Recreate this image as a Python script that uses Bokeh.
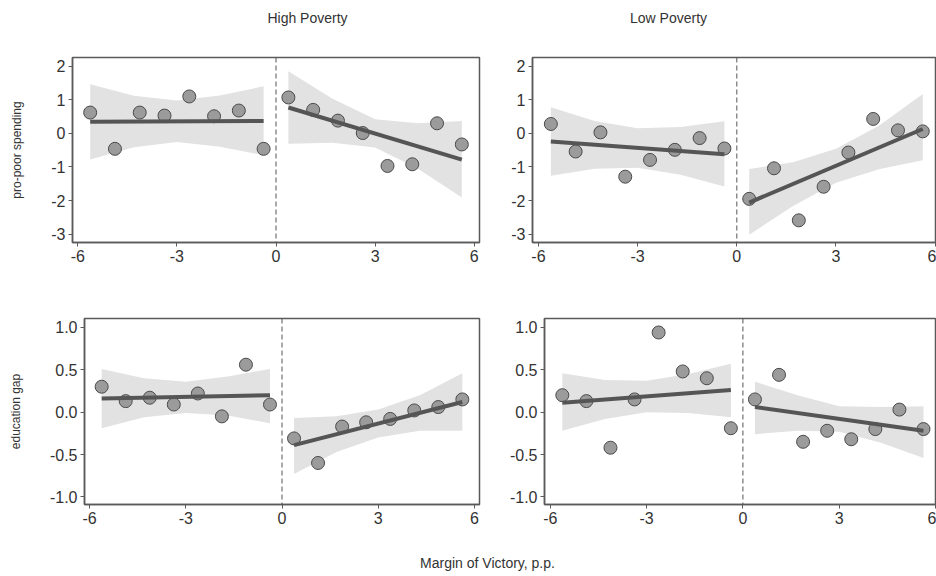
from bokeh.plotting import figure
from bokeh.layouts import column, row
from bokeh.models import Range1d, FixedTicker, PrintfTickFormatter, Span
from bokeh.core.properties import value
from bokeh.embed import file_html
from bokeh.resources import INLINE

FONT = "Liberation Sans"

# ---------------- data ----------------
bins_left = [-5.625, -4.875, -4.125, -3.375, -2.625, -1.875, -1.125, -0.375]
bins_right = [0.375, 1.125, 1.875, 2.625, 3.375, 4.125, 4.875, 5.625]
fit_x_left = [-5.625, -0.375]
fit_x_right = [0.375, 5.625]
band_x_left = [-5.625, -4.3, -3.0, -1.7, -0.375]
band_x_right = [0.375, 1.7, 3.0, 4.3, 5.625]

col_titles = ["High Poverty", "Low Poverty"]
row_labels = ["pro-poor spending", "education gap"]
x_label = "Margin of Victory, p.p."
x_ticks = [-6, -3, 0, 3, 6]
spend_ticks = [-3, -2, -1, 0, 1, 2]
gap_ticks = [-1.0, -0.5, 0.0, 0.5, 1.0]

# High poverty - pro-poor spending
hp_spend_left = [0.62, -0.46, 0.62, 0.53, 1.10, 0.51, 0.68, -0.46]
hp_spend_right = [1.07, 0.70, 0.38, 0.01, -0.97, -0.92, 0.30, -0.33]
hp_spend_fit_left = [0.35, 0.37]
hp_spend_fit_right = [0.77, -0.78]
hp_spend_up_left = [1.46, 1.12, 0.98, 1.13, 1.40]
hp_spend_lo_left = [-0.78, -0.41, -0.26, -0.40, -0.65]
hp_spend_up_right = [1.85, 1.04, 0.42, 0.30, 0.37]
hp_spend_lo_right = [-0.31, -0.28, -0.42, -1.05, -1.91]

# Low poverty - pro-poor spending
lp_spend_left = [0.28, -0.54, 0.03, -1.29, -0.79, -0.49, -0.14, -0.45]
lp_spend_right = [-1.95, -1.04, -2.59, -1.59, -0.57, 0.43, 0.09, 0.06]
lp_spend_fit_left = [-0.24, -0.62]
lp_spend_fit_right = [-2.06, 0.13]
lp_spend_up_left = [0.78, 0.37, 0.15, 0.19, 0.36]
lp_spend_lo_left = [-1.26, -1.05, -1.02, -1.23, -1.58]
lp_spend_up_right = [-1.06, -0.86, -0.46, 0.23, 1.17]
lp_spend_lo_right = [-3.02, -2.16, -1.47, -1.07, -0.80]

# High poverty - education gap
hp_gap_left = [0.30, 0.13, 0.17, 0.09, 0.22, -0.05, 0.56, 0.09]
hp_gap_right = [-0.31, -0.60, -0.17, -0.12, -0.08, 0.02, 0.06, 0.15]
hp_gap_fit_left = [0.16, 0.20]
hp_gap_fit_right = [-0.39, 0.12]
hp_gap_up_left = [0.51, 0.40, 0.36, 0.42, 0.51]
hp_gap_lo_left = [-0.19, -0.06, -0.01, -0.04, -0.13]
hp_gap_up_right = [-0.07, -0.05, 0.03, 0.20, 0.46]
hp_gap_lo_right = [-0.73, -0.47, -0.30, -0.22, -0.22]

# Low poverty - education gap
lp_gap_left = [0.20, 0.13, -0.42, 0.15, 0.94, 0.48, 0.40, -0.19]
lp_gap_right = [0.15, 0.44, -0.35, -0.22, -0.32, -0.20, 0.03, -0.20]
lp_gap_fit_left = [0.11, 0.26]
lp_gap_fit_right = [0.06, -0.22]
lp_gap_up_left = [0.46, 0.38, 0.37, 0.45, 0.57]
lp_gap_lo_left = [-0.22, -0.08, 0.00, -0.01, -0.06]
lp_gap_up_right = [0.36, 0.20, 0.07, 0.06, 0.07]
lp_gap_lo_right = [-0.26, -0.22, -0.23, -0.36, -0.54]

# ---------------- styling ----------------
AX = "#5a5a5a"
TXT = "#333333"
BAND = "#e2e2e2"
FITC = "#555555"
PT_FILL = "#9b9b9b"
PT_LINE = "#4a4a4a"


def panel(width, height, bl, br, bt, bb, xr, yr, yticks, yfmt, ylabel,
          yl, yr_, fl, fr, ul, ll, ur, lr):
    p = figure(width=width, height=height, x_range=Range1d(*xr), y_range=Range1d(*yr),
               output_backend="svg", toolbar_location=None,
               min_border_left=bl, min_border_right=br, min_border_top=bt, min_border_bottom=bb,
               background_fill_color="white", border_fill_color="white")
    p.grid.visible = False
    p.outline_line_color = AX
    p.outline_line_width = 1.5
    p.varea(x=band_x_left, y1=ll, y2=ul, fill_color=BAND)
    p.varea(x=band_x_right, y1=lr, y2=ur, fill_color=BAND)
    p.add_layout(Span(location=0, dimension="height", line_color="#555555",
                      line_width=1, line_dash="5 3"))
    p.scatter(bins_left, yl, size=13, fill_color=PT_FILL, line_color=PT_LINE, line_width=1)
    p.scatter(bins_right, yr_, size=13, fill_color=PT_FILL, line_color=PT_LINE, line_width=1)
    p.line(fit_x_left, fl, line_width=4, line_color=FITC)
    p.line(fit_x_right, fr, line_width=4, line_color=FITC)

    for ax in (p.xaxis[0], p.yaxis[0]):
        ax.axis_line_color = AX
        ax.axis_line_width = 1.5
        ax.major_tick_line_color = AX
        ax.major_tick_in = 0
        ax.major_tick_out = 4
        ax.minor_tick_line_color = None
        ax.major_label_text_font = FONT
        ax.major_label_text_font_size = "16px"
        ax.major_label_text_color = TXT
        ax.major_label_standoff = 3
    p.xaxis.ticker = FixedTicker(ticks=x_ticks)
    p.xaxis.formatter = PrintfTickFormatter(format="%d")
    p.yaxis.ticker = FixedTicker(ticks=yticks)
    p.yaxis.formatter = PrintfTickFormatter(format=yfmt)
    if ylabel:
        p.yaxis.axis_label = ylabel
        p.yaxis.axis_label_text_font = FONT
        p.yaxis.axis_label_text_font_size = "12px"
        p.yaxis.axis_label_text_font_style = "normal"
        p.yaxis.axis_label_text_color = TXT
        p.yaxis.axis_label_standoff = 24
    return p


LW, RW = 505, 431
TH, BH = 260, 260

p_tl = panel(LW, TH, 72, 26, 29, 46, (-6.16, 6.16), (-3.25, 2.26), spend_ticks, "%d", row_labels[0],
             hp_spend_left, hp_spend_right, hp_spend_fit_left, hp_spend_fit_right,
             hp_spend_up_left, hp_spend_lo_left, hp_spend_up_right, hp_spend_lo_right)
p_tr = panel(RW, TH, 27, 0, 29, 46, (-6.18, 6.04), (-3.25, 2.26), spend_ticks, "%d", None,
             lp_spend_left, lp_spend_right, lp_spend_fit_left, lp_spend_fit_right,
             lp_spend_up_left, lp_spend_lo_left, lp_spend_up_right, lp_spend_lo_right)
p_bl = panel(LW, BH, 84, 26, 30, 44, (-6.16, 6.16), (-1.09, 1.105), gap_ticks, "%.1f", row_labels[1],
             hp_gap_left, hp_gap_right, hp_gap_fit_left, hp_gap_fit_right,
             hp_gap_up_left, hp_gap_lo_left, hp_gap_up_right, hp_gap_lo_right)
p_br = panel(RW, BH, 39, 0, 30, 44, (-6.18, 6.03), (-1.09, 1.105), gap_ticks, "%.1f", None,
             lp_gap_left, lp_gap_right, lp_gap_fit_left, lp_gap_fit_right,
             lp_gap_up_left, lp_gap_lo_left, lp_gap_up_right, lp_gap_lo_right)


def strip(height, xs, ys, texts, size):
    s = figure(width=LW + RW, height=height, x_range=Range1d(0, LW + RW), y_range=Range1d(0, height),
               output_backend="svg", toolbar_location=None, x_axis_type=None, y_axis_type=None,
               min_border=0, min_border_left=0, min_border_right=0, min_border_top=0, min_border_bottom=0)
    s.grid.visible = False
    s.outline_line_color = None
    s.text(x=xs, y=ys, text=texts, text_align="center", text_baseline="middle",
           text_font=value(FONT), text_font_size=size, text_color=TXT)
    return s


top_strip = strip(28, [307, 668], [11, 11], col_titles, "14px")
bottom_strip = strip(26, [487], [12], [x_label], "14px")

layout = column(top_strip, row(p_tl, p_tr), row(p_bl, p_br), bottom_strip)

open("out.html", "w").write(file_html(layout, INLINE))
